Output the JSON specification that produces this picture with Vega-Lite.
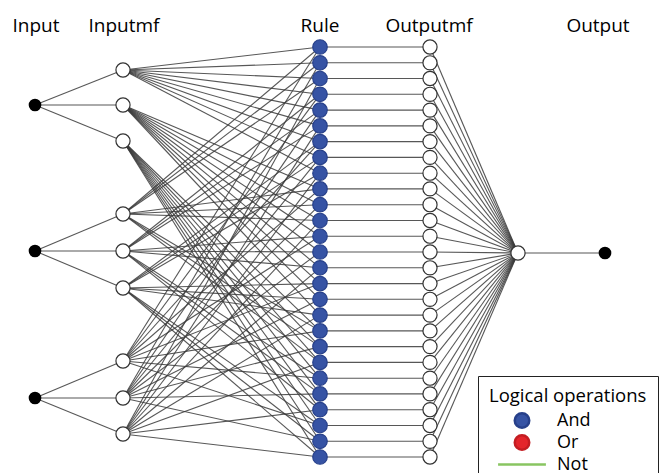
{
  "$schema": "https://vega.github.io/schema/vega-lite/v6.json",
  "autosize": {"type": "fit", "contains": "padding"},
  "width": 659,
  "height": 473,
  "padding": 0,
  "background": "white",
  "config": {"view": {"stroke": null}},
  "datasets": {
    "nodes": [
      {"id": "I1", "kind": "black", "x": 35, "y": 105},
      {"id": "I2", "kind": "black", "x": 35, "y": 251},
      {"id": "I3", "kind": "black", "x": 35, "y": 398},
      {"id": "A1", "kind": "white", "x": 123, "y": 70},
      {"id": "A2", "kind": "white", "x": 123, "y": 105},
      {"id": "A3", "kind": "white", "x": 123, "y": 141},
      {"id": "B1", "kind": "white", "x": 123, "y": 214},
      {"id": "B2", "kind": "white", "x": 123, "y": 251},
      {"id": "B3", "kind": "white", "x": 123, "y": 288},
      {"id": "C1", "kind": "white", "x": 123, "y": 361},
      {"id": "C2", "kind": "white", "x": 123, "y": 398},
      {"id": "C3", "kind": "white", "x": 123, "y": 434},
      {"id": "R0", "kind": "rule", "op": "And", "x": 320, "y": 47},
      {"id": "R1", "kind": "rule", "op": "And", "x": 320, "y": 62.8},
      {"id": "R2", "kind": "rule", "op": "And", "x": 320, "y": 78.5},
      {"id": "R3", "kind": "rule", "op": "And", "x": 320, "y": 94.3},
      {"id": "R4", "kind": "rule", "op": "And", "x": 320, "y": 110.1},
      {"id": "R5", "kind": "rule", "op": "And", "x": 320, "y": 125.9},
      {"id": "R6", "kind": "rule", "op": "And", "x": 320, "y": 141.6},
      {"id": "R7", "kind": "rule", "op": "And", "x": 320, "y": 157.4},
      {"id": "R8", "kind": "rule", "op": "And", "x": 320, "y": 173.2},
      {"id": "R9", "kind": "rule", "op": "And", "x": 320, "y": 188.9},
      {"id": "R10", "kind": "rule", "op": "And", "x": 320, "y": 204.7},
      {"id": "R11", "kind": "rule", "op": "And", "x": 320, "y": 220.5},
      {"id": "R12", "kind": "rule", "op": "And", "x": 320, "y": 236.2},
      {"id": "R13", "kind": "rule", "op": "And", "x": 320, "y": 252},
      {"id": "R14", "kind": "rule", "op": "And", "x": 320, "y": 267.8},
      {"id": "R15", "kind": "rule", "op": "And", "x": 320, "y": 283.6},
      {"id": "R16", "kind": "rule", "op": "And", "x": 320, "y": 299.3},
      {"id": "R17", "kind": "rule", "op": "And", "x": 320, "y": 315.1},
      {"id": "R18", "kind": "rule", "op": "And", "x": 320, "y": 330.9},
      {"id": "R19", "kind": "rule", "op": "And", "x": 320, "y": 346.6},
      {"id": "R20", "kind": "rule", "op": "And", "x": 320, "y": 362.4},
      {"id": "R21", "kind": "rule", "op": "And", "x": 320, "y": 378.2},
      {"id": "R22", "kind": "rule", "op": "And", "x": 320, "y": 393.9},
      {"id": "R23", "kind": "rule", "op": "And", "x": 320, "y": 409.7},
      {"id": "R24", "kind": "rule", "op": "And", "x": 320, "y": 425.5},
      {"id": "R25", "kind": "rule", "op": "And", "x": 320, "y": 441.3},
      {"id": "R26", "kind": "rule", "op": "And", "x": 320, "y": 457},
      {"id": "O0", "kind": "white", "x": 430, "y": 47},
      {"id": "O1", "kind": "white", "x": 430, "y": 62.8},
      {"id": "O2", "kind": "white", "x": 430, "y": 78.5},
      {"id": "O3", "kind": "white", "x": 430, "y": 94.3},
      {"id": "O4", "kind": "white", "x": 430, "y": 110.1},
      {"id": "O5", "kind": "white", "x": 430, "y": 125.9},
      {"id": "O6", "kind": "white", "x": 430, "y": 141.6},
      {"id": "O7", "kind": "white", "x": 430, "y": 157.4},
      {"id": "O8", "kind": "white", "x": 430, "y": 173.2},
      {"id": "O9", "kind": "white", "x": 430, "y": 188.9},
      {"id": "O10", "kind": "white", "x": 430, "y": 204.7},
      {"id": "O11", "kind": "white", "x": 430, "y": 220.5},
      {"id": "O12", "kind": "white", "x": 430, "y": 236.2},
      {"id": "O13", "kind": "white", "x": 430, "y": 252},
      {"id": "O14", "kind": "white", "x": 430, "y": 267.8},
      {"id": "O15", "kind": "white", "x": 430, "y": 283.6},
      {"id": "O16", "kind": "white", "x": 430, "y": 299.3},
      {"id": "O17", "kind": "white", "x": 430, "y": 315.1},
      {"id": "O18", "kind": "white", "x": 430, "y": 330.9},
      {"id": "O19", "kind": "white", "x": 430, "y": 346.6},
      {"id": "O20", "kind": "white", "x": 430, "y": 362.4},
      {"id": "O21", "kind": "white", "x": 430, "y": 378.2},
      {"id": "O22", "kind": "white", "x": 430, "y": 393.9},
      {"id": "O23", "kind": "white", "x": 430, "y": 409.7},
      {"id": "O24", "kind": "white", "x": 430, "y": 425.5},
      {"id": "O25", "kind": "white", "x": 430, "y": 441.3},
      {"id": "O26", "kind": "white", "x": 430, "y": 457},
      {"id": "OUT", "kind": "white", "x": 518, "y": 253},
      {"id": "FIN", "kind": "black", "x": 605, "y": 253}
    ],
    "edges": [
      {"s": "I1", "t": "A1"}, {"s": "I1", "t": "A2"}, {"s": "I1", "t": "A3"},
      {"s": "I2", "t": "B1"}, {"s": "I2", "t": "B2"}, {"s": "I2", "t": "B3"},
      {"s": "I3", "t": "C1"}, {"s": "I3", "t": "C2"}, {"s": "I3", "t": "C3"},
      {"s": "A1", "t": "R0"}, {"s": "A1", "t": "R1"}, {"s": "A1", "t": "R2"}, {"s": "A1", "t": "R3"}, {"s": "A1", "t": "R4"}, {"s": "A1", "t": "R5"}, {"s": "A1", "t": "R6"}, {"s": "A1", "t": "R7"}, {"s": "A1", "t": "R8"},
      {"s": "A2", "t": "R9"}, {"s": "A2", "t": "R10"}, {"s": "A2", "t": "R11"}, {"s": "A2", "t": "R12"}, {"s": "A2", "t": "R13"}, {"s": "A2", "t": "R14"}, {"s": "A2", "t": "R15"}, {"s": "A2", "t": "R16"}, {"s": "A2", "t": "R17"},
      {"s": "A3", "t": "R18"}, {"s": "A3", "t": "R19"}, {"s": "A3", "t": "R20"}, {"s": "A3", "t": "R21"}, {"s": "A3", "t": "R22"}, {"s": "A3", "t": "R23"}, {"s": "A3", "t": "R24"}, {"s": "A3", "t": "R25"}, {"s": "A3", "t": "R26"},
      {"s": "B1", "t": "R0"}, {"s": "B1", "t": "R1"}, {"s": "B1", "t": "R2"}, {"s": "B1", "t": "R9"}, {"s": "B1", "t": "R10"}, {"s": "B1", "t": "R11"}, {"s": "B1", "t": "R18"}, {"s": "B1", "t": "R19"}, {"s": "B1", "t": "R20"},
      {"s": "B2", "t": "R3"}, {"s": "B2", "t": "R4"}, {"s": "B2", "t": "R5"}, {"s": "B2", "t": "R12"}, {"s": "B2", "t": "R13"}, {"s": "B2", "t": "R14"}, {"s": "B2", "t": "R21"}, {"s": "B2", "t": "R22"}, {"s": "B2", "t": "R23"},
      {"s": "B3", "t": "R6"}, {"s": "B3", "t": "R7"}, {"s": "B3", "t": "R8"}, {"s": "B3", "t": "R15"}, {"s": "B3", "t": "R16"}, {"s": "B3", "t": "R17"}, {"s": "B3", "t": "R24"}, {"s": "B3", "t": "R25"}, {"s": "B3", "t": "R26"},
      {"s": "C1", "t": "R0"}, {"s": "C1", "t": "R3"}, {"s": "C1", "t": "R6"}, {"s": "C1", "t": "R9"}, {"s": "C1", "t": "R12"}, {"s": "C1", "t": "R15"}, {"s": "C1", "t": "R18"}, {"s": "C1", "t": "R21"}, {"s": "C1", "t": "R24"},
      {"s": "C2", "t": "R1"}, {"s": "C2", "t": "R4"}, {"s": "C2", "t": "R7"}, {"s": "C2", "t": "R10"}, {"s": "C2", "t": "R13"}, {"s": "C2", "t": "R16"}, {"s": "C2", "t": "R19"}, {"s": "C2", "t": "R22"}, {"s": "C2", "t": "R25"},
      {"s": "C3", "t": "R2"}, {"s": "C3", "t": "R5"}, {"s": "C3", "t": "R8"}, {"s": "C3", "t": "R11"}, {"s": "C3", "t": "R14"}, {"s": "C3", "t": "R17"}, {"s": "C3", "t": "R20"}, {"s": "C3", "t": "R23"}, {"s": "C3", "t": "R26"},
      {"s": "R0", "t": "O0"}, {"s": "R1", "t": "O1"}, {"s": "R2", "t": "O2"}, {"s": "R3", "t": "O3"}, {"s": "R4", "t": "O4"}, {"s": "R5", "t": "O5"}, {"s": "R6", "t": "O6"}, {"s": "R7", "t": "O7"}, {"s": "R8", "t": "O8"},
      {"s": "R9", "t": "O9"}, {"s": "R10", "t": "O10"}, {"s": "R11", "t": "O11"}, {"s": "R12", "t": "O12"}, {"s": "R13", "t": "O13"}, {"s": "R14", "t": "O14"}, {"s": "R15", "t": "O15"}, {"s": "R16", "t": "O16"}, {"s": "R17", "t": "O17"},
      {"s": "R18", "t": "O18"}, {"s": "R19", "t": "O19"}, {"s": "R20", "t": "O20"}, {"s": "R21", "t": "O21"}, {"s": "R22", "t": "O22"}, {"s": "R23", "t": "O23"}, {"s": "R24", "t": "O24"}, {"s": "R25", "t": "O25"}, {"s": "R26", "t": "O26"},
      {"s": "O0", "t": "OUT"}, {"s": "O1", "t": "OUT"}, {"s": "O2", "t": "OUT"}, {"s": "O3", "t": "OUT"}, {"s": "O4", "t": "OUT"}, {"s": "O5", "t": "OUT"}, {"s": "O6", "t": "OUT"}, {"s": "O7", "t": "OUT"}, {"s": "O8", "t": "OUT"},
      {"s": "O9", "t": "OUT"}, {"s": "O10", "t": "OUT"}, {"s": "O11", "t": "OUT"}, {"s": "O12", "t": "OUT"}, {"s": "O13", "t": "OUT"}, {"s": "O14", "t": "OUT"}, {"s": "O15", "t": "OUT"}, {"s": "O16", "t": "OUT"}, {"s": "O17", "t": "OUT"},
      {"s": "O18", "t": "OUT"}, {"s": "O19", "t": "OUT"}, {"s": "O20", "t": "OUT"}, {"s": "O21", "t": "OUT"}, {"s": "O22", "t": "OUT"}, {"s": "O23", "t": "OUT"}, {"s": "O24", "t": "OUT"}, {"s": "O25", "t": "OUT"}, {"s": "O26", "t": "OUT"},
      {"s": "OUT", "t": "FIN"}
    ],
    "titles": [
      {"label": "Input", "x": 36, "y": 26},
      {"label": "Inputmf", "x": 124, "y": 26},
      {"label": "Rule", "x": 320, "y": 26},
      {"label": "Outputmf", "x": 429, "y": 26},
      {"label": "Output", "x": 598, "y": 26}
    ]
  },
  "layer": [
    {
      "data": {"name": "edges"},
      "transform": [
        {"lookup": "s", "from": {"data": {"name": "nodes"}, "key": "id", "fields": ["x", "y"]}, "as": ["x1", "y1"]},
        {"lookup": "t", "from": {"data": {"name": "nodes"}, "key": "id", "fields": ["x", "y"]}, "as": ["x2", "y2"]}
      ],
      "mark": {"type": "rule", "color": "#3a3a3a", "strokeWidth": 1.1, "opacity": 0.85},
      "encoding": {
        "x": {"field": "x1", "type": "quantitative", "scale": {"domain": [0, 659], "nice": false, "zero": false}, "axis": null},
        "y": {"field": "y1", "type": "quantitative", "scale": {"domain": [0, 473], "nice": false, "zero": false, "reverse": true}, "axis": null},
        "x2": {"field": "x2"},
        "y2": {"field": "y2"}
      }
    },
    {
      "data": {"name": "nodes"},
      "transform": [{"filter": "datum.kind === 'black'"}],
      "mark": {"type": "point", "filled": true, "shape": "circle", "size": 160, "color": "black", "opacity": 1},
      "encoding": {
        "x": {"field": "x", "type": "quantitative"},
        "y": {"field": "y", "type": "quantitative"}
      }
    },
    {
      "data": {"name": "nodes"},
      "transform": [{"filter": "datum.kind === 'white'"}],
      "mark": {"type": "point", "filled": true, "shape": "circle", "size": 200, "fill": "white", "stroke": "#333333", "strokeWidth": 1.2, "opacity": 1},
      "encoding": {
        "x": {"field": "x", "type": "quantitative"},
        "y": {"field": "y", "type": "quantitative"}
      }
    },
    {
      "data": {"name": "nodes"},
      "transform": [{"filter": "datum.kind === 'rule'"}],
      "mark": {"type": "point", "filled": true, "strokeWidth": 1.2, "opacity": 1, "size": 210},
      "encoding": {
        "x": {"field": "x", "type": "quantitative"},
        "y": {"field": "y", "type": "quantitative"},
        "fill": {"field": "op", "type": "nominal", "scale": {"domain": ["And", "Or", "Not"], "range": ["#3653a4", "#e4252b", "#88c561"]},
          "legend": {"title": "Logical operations", "orient": "none", "legendX": 478, "legendY": 376, "padding": 11, "fillColor": "white", "strokeColor": "#222222", "titleFont": "Open Sans", "labelFont": "Open Sans", "titleFontSize": 18.5, "labelFontSize": 18, "titleFontWeight": "normal", "titleColor": "black", "labelColor": "black", "symbolOffset": 24, "labelOffset": 26, "rowPadding": -7, "titlePadding": 6, "symbolSize": 210, "symbolStrokeWidth": 2.5}},
        "stroke": {"field": "op", "type": "nominal", "scale": {"domain": ["And", "Or", "Not"], "range": ["#27408a", "#c41d22", "#88c561"]}},
        "shape": {"field": "op", "type": "nominal", "scale": {"domain": ["And", "Or", "Not"], "range": ["circle", "circle", "M-3.3,0H3.3"]}}
      }
    },
    {
      "data": {"name": "titles"},
      "mark": {"type": "text", "font": "Open Sans", "fontSize": 19, "color": "black", "align": "center", "baseline": "middle"},
      "encoding": {
        "x": {"field": "x", "type": "quantitative"},
        "y": {"field": "y", "type": "quantitative"},
        "text": {"field": "label"}
      }
    }
  ]
}
